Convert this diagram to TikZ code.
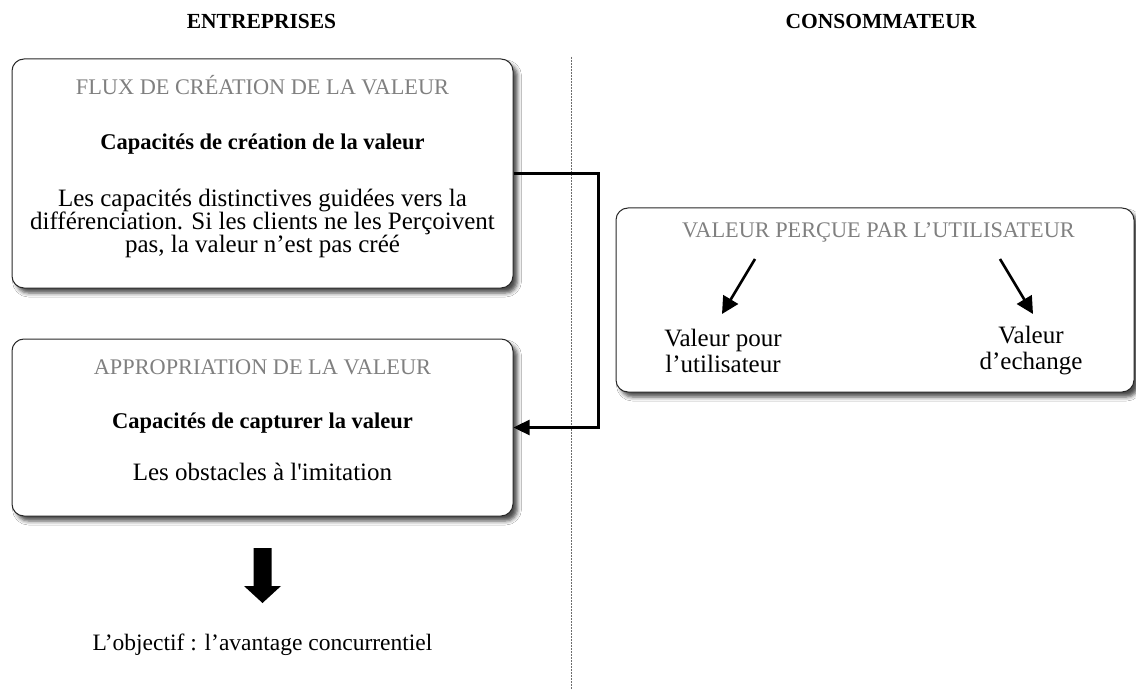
\documentclass[tikz,border=0pt]{standalone}
\usepackage{fontspec}
\setmainfont{Liberation Serif}
\usetikzlibrary{arrows.meta,shadows.blur}
\definecolor{titlegray}{RGB}{128,128,128}
\definecolor{boxline}{RGB}{40,40,40}
\definecolor{dotgray}{RGB}{110,110,110}
\begin{document}
\begin{tikzpicture}[x=1pt,y=-1pt,
  box/.style={draw=boxline, line width=1pt, rounded corners=12pt, fill=white, inner sep=0pt,
    blur shadow={shadow xshift=4.5pt, shadow yshift=-5pt, shadow blur radius=4pt, shadow opacity=70}},
  head/.style={font=\fontsize{21.5}{24}\selectfont\bfseries, inner sep=0pt},
  ttl/.style={font=\fontsize{22.3}{24}\selectfont, text=titlegray, inner sep=0pt},
  bld/.style={font=\fontsize{22.5}{24}\selectfont\bfseries, inner sep=0pt},
  body/.style={font=\fontsize{25}{23}\selectfont, align=center, inner sep=0pt},
  pair/.style={font=\fontsize{25}{26}\selectfont, align=center, inner sep=0pt},
  conn/.style={line width=2.4pt, -{Triangle[length=16pt,width=15pt]}},
  small/.style={line width=2.6pt, -{Triangle[length=17pt,width=17pt]}},
  sep/.style={draw=dotgray, line width=0.8pt, dash pattern=on 1.6pt off 1.4pt},
]
\useasboundingbox (0,0) rectangle (1136,690);
\fill[white] (0,0) rectangle (1136,690);

% separator
\coordinate (dtop) at (571,57);
\coordinate (dbot) at (571,690);
\draw[sep] (dtop) -- (dbot);

% headers
\node[head] (hE) at (261.5,21) {ENTREPRISES};
\node[head] (hC) at (881,21) {CONSOMMATEUR};

% boxes
\node[box, minimum width=501pt, minimum height=229pt] (b1) at (262.5,173.5) {};
\node[box, minimum width=501pt, minimum height=177pt] (b2) at (262.5,427.5) {};
\node[box, minimum width=518pt, minimum height=184pt] (b3) at (875,300) {};

% box 1 texts
\node[ttl] (t1) at (262.5,85) {FLUX DE CRÉATION DE LA VALEUR};
\node[bld] (c1) at (262.5,144) {Capacités de création de la valeur};
\node[body] (d1) at (262.5,223) {Les capacités distinctives guidées vers la\\différenciation. Si les clients ne les Perçoivent\\pas, la valeur n’est pas créé};

% box 2 texts
\node[ttl] (t2) at (262.5,367) {APPROPRIATION DE LA VALEUR};
\node[bld] (c2) at (262.5,423) {Capacités de capturer la valeur};
\node[body] (d2) at (262.5,472) {Les obstacles à l\textquotesingle imitation};

% box 3 texts
\node[ttl] (t3) at (878.5,232) {VALEUR PERÇUE PAR L’UTILISATEUR};
\node[pair] (v1) at (723,351) {Valeur pour\\l’utilisateur};
\node[pair] (v2) at (1031,351) {Valeur\\d’echange};

\coordinate (a1s) at (755,259);
\coordinate (a1e) at (722,314);
\coordinate (a2s) at (1000,259);
\coordinate (a2e) at (1033,314);
\draw[small] (a1s) -- (a1e);
\draw[small] (a2s) -- (a2e);

% connector
\draw[conn] (b1.east) -- ++(85,0) |- (b2.east);

% big arrow and goal
\fill[black] (253.5,548) -- (271.5,548) -- (271.5,586) -- (281,586) -- (262.5,603) -- (244,586) -- (253.5,586) -- cycle;
\node[font=\fontsize{23.5}{26}\selectfont, inner sep=0pt] (goal) at (262.5,645) {L’objectif : l’avantage concurrentiel};
\end{tikzpicture}
\end{document}
